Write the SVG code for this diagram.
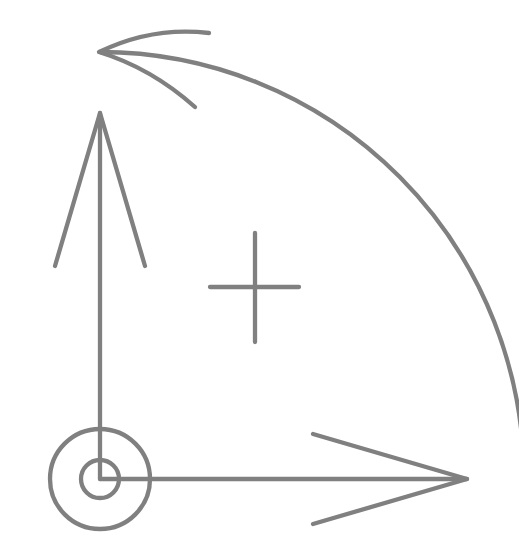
<svg xmlns="http://www.w3.org/2000/svg" width="519" height="540" viewBox="0 0 519 540"><style>.s{fill:none;stroke:#808080;stroke-width:4.3;stroke-linecap:round;stroke-linejoin:round}</style><rect width="519" height="540" fill="#fff"/><g id="connectors" class="s"><path d="M100 479V113"/><path d="M55 266L100 113L145 266"/><path d="M100 479H467"/><path d="M313 434L467 479L313 524"/><path d="M100 52A424 427 0 0 1 524 479"/><path d="M209 33C168 28 130 37 99 52C135 63 168 83 195 107"/></g><g id="plus" class="s"><path d="M255 233V342"/><path d="M210 287H299"/></g><g id="origin" class="s"><circle cx="100" cy="479" r="50"/><circle cx="100" cy="479" r="19"/></g></svg>
